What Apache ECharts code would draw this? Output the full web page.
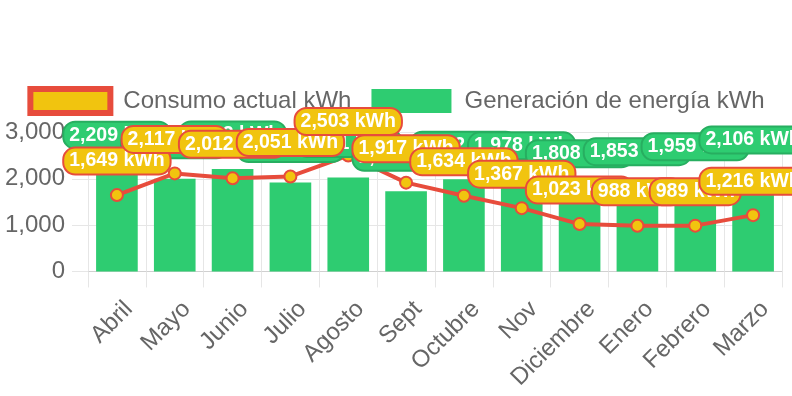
<!DOCTYPE html>
<html>
<head>
<meta charset="utf-8">
<script src="https://cdn.jsdelivr.net/npm/echarts@6/dist/echarts.min.js"></script>
<style>
html,body{margin:0;padding:0;background:#fff;}
#chart{width:792px;height:396px;}
</style>
</head>
<body>
<div id="chart"></div>
<script>
var categories = ['Abril','Mayo','Junio','Julio','Agosto','Sept','Octubre','Nov','Diciembre','Enero','Febrero','Marzo'];
var consumo = [1649, 2117, 2012, 2051, 2503, 1917, 1634, 1367, 1023, 988, 989, 1216];
var generacion = [2209, 2002, 2213, 1921, 2031, 1731, 1992, 1978, 1808, 1853, 1959, 2106];
var yTicks = [0, 1000, 2000, 3000];
var seriesNames = ['Consumo actual kWh', 'Generación de energía kWh'];

var FONT = '"Liberation Sans", "Helvetica Neue", Helvetica, Arial, sans-serif';
var RED = '#e74c3c', YELLOW = '#f1c40f', GREEN = '#2ecc71', DGREEN = '#27ae60';
var GRID = '#e6e6e6';

function fmt(v){ return v.toLocaleString('en-US') + ' kWh'; }

var chart = echarts.init(document.getElementById('chart'), null, {renderer:'canvas'});
chart.setOption({
  animation: false,
  textStyle: {fontFamily: FONT},
  legend: {
    top: 81,
    left: 'center',
    itemWidth: 80,
    itemHeight: 24,
    itemGap: 20,
    textStyle: {fontSize: 24, color: '#666', fontFamily: FONT, padding: [0,0,0,8]},
    data: [
      {name: seriesNames[0], icon: 'rect', itemStyle: {color: YELLOW, borderColor: RED, borderWidth: 6}},
      {name: seriesNames[1], icon: 'rect', itemStyle: {color: GREEN, borderWidth: 0}}
    ]
  },
  grid: {left: 88, right: 10, top: 132.5, bottom: 123.7, containLabel: false},
  xAxis: {
    type: 'category',
    data: categories,
    boundaryGap: true,
    axisLine: {show: true, lineStyle: {color: '#d0d0d0', width: 1}},
    axisTick: {show: true, length: 16, lineStyle: {color: GRID}, alignWithLabel: false},
    splitLine: {show: true, lineStyle: {color: GRID}},
    axisLabel: {interval: 0, rotate: 45, margin: 22, verticalAlign: 'top', lineHeight: 34,
      fontSize: 24, color: '#666', fontFamily: FONT}
  },
  yAxis: {
    type: 'value',
    min: yTicks[0],
    max: yTicks[yTicks.length-1],
    interval: 1000,
    axisLine: {show: true, lineStyle: {color: GRID}},
    axisTick: {show: true, length: 16, lineStyle: {color: GRID}},
    splitLine: {show: true, lineStyle: {color: GRID}},
    axisLabel: {margin: 23, fontSize: 24, color: '#666', fontFamily: FONT,
      formatter: function(v){ return v.toLocaleString('en-US'); }}
  },
  series: [
    {
      name: seriesNames[1],
      type: 'bar',
      data: generacion,
      barWidth: '72%',
      itemStyle: {color: GREEN},
      z: 2
    },
    {
      name: seriesNames[0],
      type: 'line',
      data: consumo,
      symbol: 'circle',
      symbolSize: 12,
      lineStyle: {color: RED, width: 4},
      itemStyle: {color: YELLOW, borderColor: RED, borderWidth: 2},
      z: 3
    },
    {
      name: 'gen-labels',
      type: 'scatter',
      data: generacion,
      symbolSize: 1,
      itemStyle: {color: 'rgba(0,0,0,0)', opacity: 1},
      silent: true,
      z: 10,
      label: {
        show: true, position: 'inside', offset: [0, -34],
        formatter: function(p){ return fmt(p.value); },
        color: '#fff', fontWeight: 'bold', fontSize: 19.5, fontFamily: FONT, lineHeight: 21,
        backgroundColor: GREEN, borderColor: DGREEN, borderWidth: 2, borderRadius: 11,
        padding: [2, 5]
      }
    },
    {
      name: 'con-labels',
      type: 'scatter',
      data: consumo,
      symbolSize: 1,
      itemStyle: {color: 'rgba(0,0,0,0)', opacity: 1},
      silent: true,
      z: 11,
      label: {
        show: true, position: 'inside', offset: [0, -34],
        formatter: function(p){ return fmt(p.value); },
        color: '#fff', fontWeight: 'bold', fontSize: 19.5, fontFamily: FONT, lineHeight: 21,
        backgroundColor: YELLOW, borderColor: RED, borderWidth: 2, borderRadius: 11,
        padding: [2, 5]
      }
    }
  ]
});
</script>
</body>
</html>
